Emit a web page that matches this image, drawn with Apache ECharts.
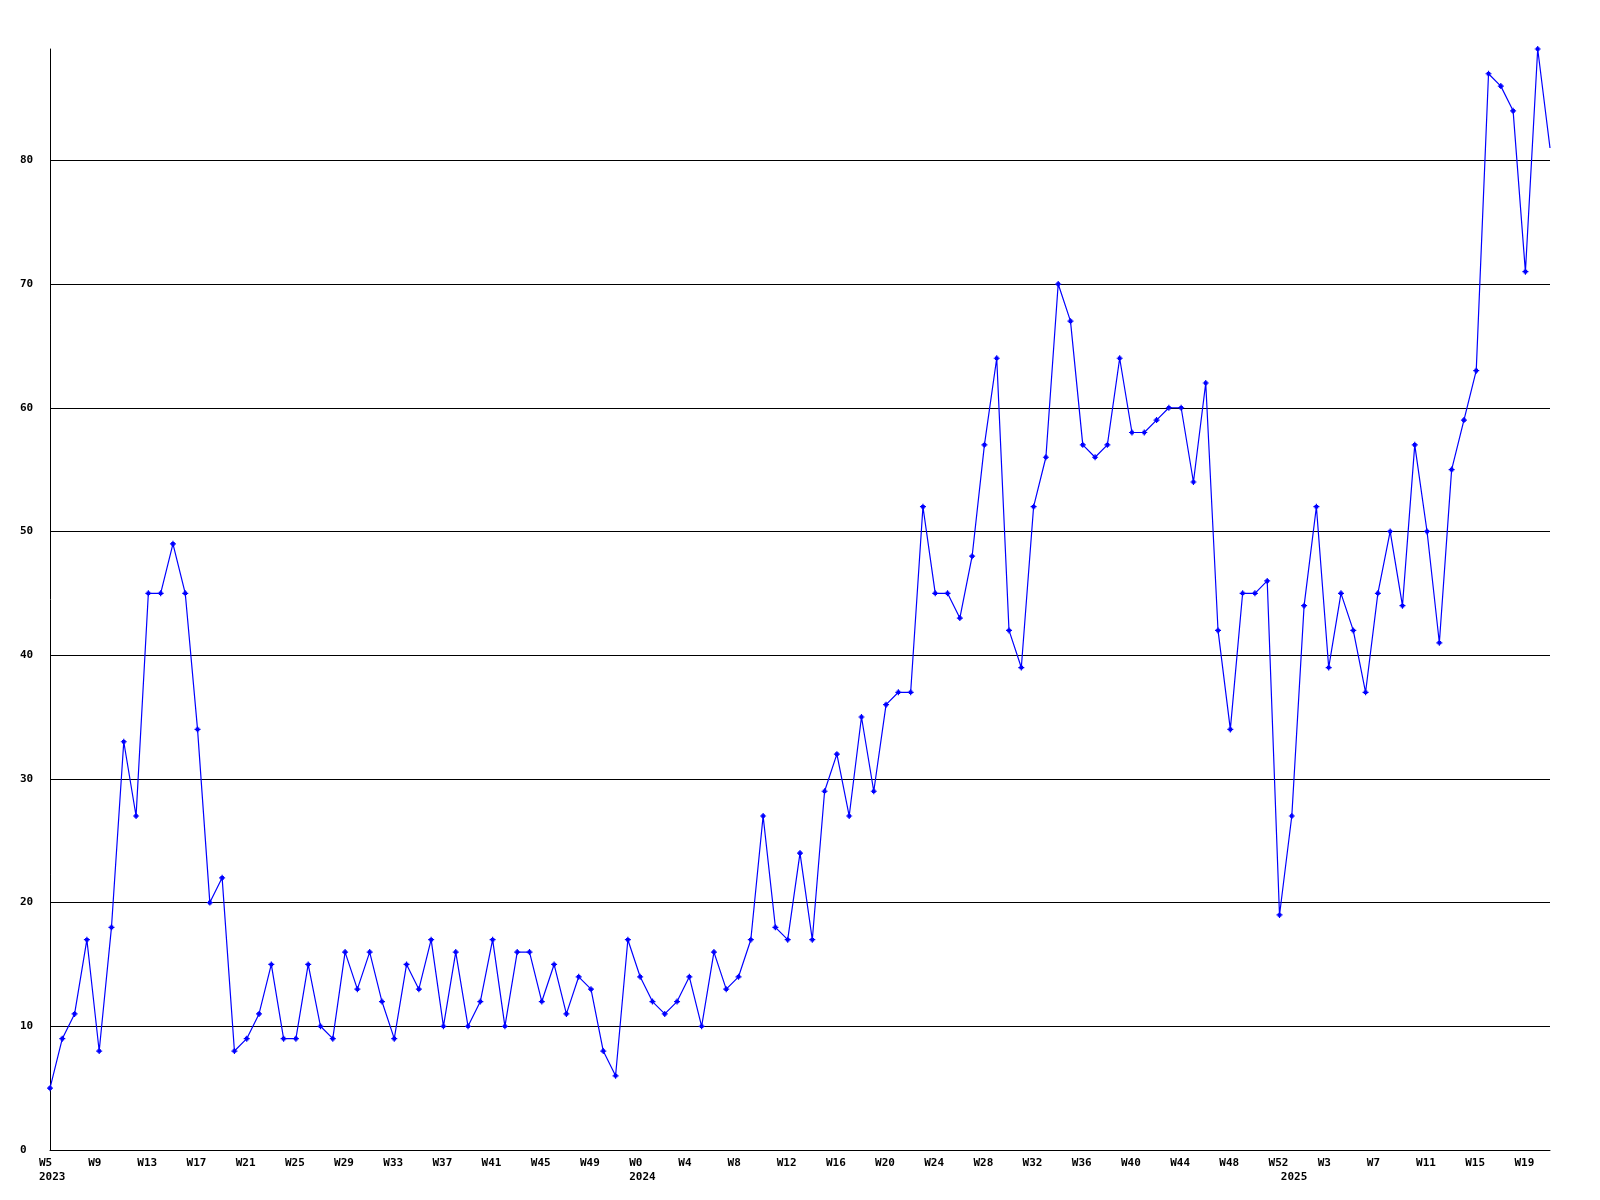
<!DOCTYPE html>
<html>
<head>
<meta charset="utf-8">
<script src="https://cdn.jsdelivr.net/npm/echarts@6/dist/echarts.min.js"></script>
<style>
html,body{margin:0;padding:0;background:#fff;}
#chart{width:1600px;height:1200px;}
</style>
</head>
<body>
<div id="chart"></div>
<script>
// Weekly values, W5 2023 .. W21 2025 (123 weeks)
const values = [
  5,9,11,17,8,18,33,27,45,45,
  49,45,34,20,22,8,9,11,15,9,
  9,15,10,9,16,13,16,12,9,15,
  13,17,10,16,10,12,17,10,16,16,
  12,15,11,14,13,8,6,17,14,12,
  11,12,14,10,16,13,14,17,27,18,
  17,24,17,29,32,27,35,29,36,37,
  37,52,45,45,43,48,57,64,42,39,
  52,56,70,67,57,56,57,64,58,58,
  59,60,60,54,62,42,34,45,45,46,
  19,27,44,52,39,45,42,37,45,50,
  44,57,50,41,55,59,63,87,86,84,
  71,89,81
];
// Week tick labels, one every 4 weeks
const tickLabels = [
  'W5','W9','W13','W17','W21','W25','W29','W33','W37','W41','W45','W49',
  'W0','W4','W8','W12','W16','W20','W24','W28','W32','W36','W40','W44','W48','W52',
  'W3','W7','W11','W15','W19'
];
const tickStep = 4;
const years = ['2023','2024','2025'];
const yearStart = [0, 48, 101];
const categories = values.map((v, i) => String(i));

const seriesData = values.map((v, i) => i === values.length - 1 ? {value: v, symbol: 'none'} : v);

const chart = echarts.init(document.getElementById('chart'), null, {renderer: 'canvas'});
const font = {fontFamily: 'DejaVu Sans Mono', fontWeight: 'bold', fontSize: 11, color: '#000'};

chart.setOption({
  backgroundColor: '#ffffff',
  animation: false,
  grid: {left: 50, right: 50, top: 49, bottom: 50, containLabel: false},
  xAxis: {
    type: 'category',
    data: categories,
    boundaryGap: false,
    axisLine: {show: true, lineStyle: {color: '#000', width: 1}},
    axisTick: {show: false},
    splitLine: {show: false},
    axisLabel: Object.assign({}, font, {
      interval: function (i) { return i % tickStep === 0 || yearStart.indexOf(i) >= 0; },
      align: 'left',
      padding: [0, 0, 0, -11],
      margin: 6,
      lineHeight: 14,
      formatter: function (val, i) {
        const w = i % tickStep === 0 ? tickLabels[i / tickStep] : '';
        const yi = yearStart.indexOf(i);
        return yi >= 0 ? w + '\n' + years[yi] : w;
      }
    })
  },
  yAxis: {
    type: 'value',
    min: 0,
    max: 89,
    interval: 10,
    axisLine: {show: true, lineStyle: {color: '#000', width: 1}},
    axisTick: {show: false},
    splitLine: {show: true, showMaxLine: false, lineStyle: {color: '#000', width: 1}},
    axisLabel: Object.assign({}, font, {
      align: 'left',
      margin: 30,
      showMaxLabel: false
    })
  },
  series: [{
    type: 'line',
    data: seriesData,
    color: '#0000ff',
    lineStyle: {color: '#0000ff', width: 1.2},
    itemStyle: {color: '#0000ff'},
    symbol: 'path://M2,0H3V1H4V2H5V3H4V4H3V5H2V4H1V3H0V2H1V1H2Z',
    symbolSize: 6,
    showSymbol: true,
    showAllSymbol: true,
    clip: true
  }]
});
</script>
</body>
</html>
